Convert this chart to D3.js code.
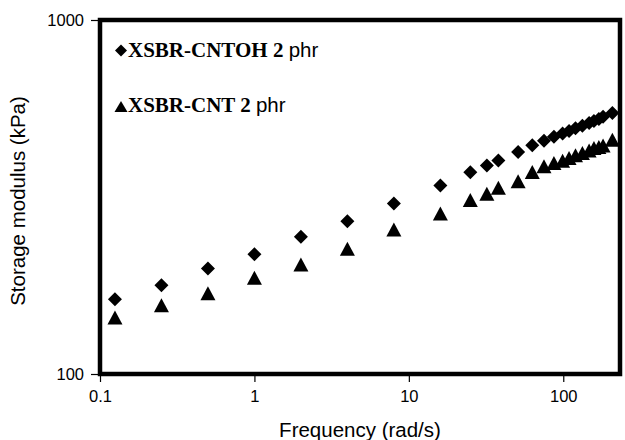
<!DOCTYPE html>
<html>
<head>
<meta charset="utf-8">
<script src="https://cdn.jsdelivr.net/npm/d3@7"></script>
<style>
  html, body { margin: 0; padding: 0; background: #fff; }
  svg { display: block; }
</style>
</head>
<body>
<svg id="chart" width="625" height="440"></svg>
<script>
// Angular frequency (rad/s) of each measurement
const frequency = [0.125, 0.25, 0.5, 1, 2, 4, 8, 16, 25, 32, 38, 51, 63, 75, 87, 99, 109, 120, 133, 147, 158, 170, 181, 208];
// Storage modulus (kPa)
const cntohValues = [162.6, 178, 198.6, 218, 244, 270, 303, 341, 371.5, 388, 401, 424, 443, 456, 467.6, 477.6, 486, 494.7, 503, 512, 518.7, 525.5, 533, 546];
const cntValues = [144.5, 156.5, 169, 187, 204, 226, 256, 284, 310, 323, 336, 350.5, 372, 386, 394.6, 400.6, 407.7, 414.6, 421, 428.2, 435, 437.8, 442.4, 459];
const xTicks = [0.1, 1, 10, 100];
const yTicks = [100, 1000];
const seriesNames = ["XSBR-CNTOH 2", "XSBR-CNT 2"];

const svg = d3.select("#chart");
const plot = { left: 100, right: 620, top: 20, bottom: 374 };

const x = d3.scaleLog().domain([0.1, 233]).range([plot.left, plot.right]);
const y = d3.scaleLog().domain([100, 1000]).range([plot.bottom, plot.top]);

const sans = "'Liberation Sans', Arial, sans-serif";
const serif = "'Liberation Serif', 'Times New Roman', serif";

// Axes (ticks point outward, domain line hidden under the frame)
const xAxis = svg.append("g")
  .attr("transform", `translate(0,${plot.bottom})`)
  .call(d3.axisBottom(x).tickValues(xTicks).tickFormat(d3.format("")).tickSize(8).tickPadding(8));
const yAxis = svg.append("g")
  .attr("transform", `translate(${plot.left},0)`)
  .call(d3.axisLeft(y).tickValues(yTicks).tickFormat(d3.format("")).tickSize(9).tickPadding(7));
[xAxis, yAxis].forEach(g => {
  g.select(".domain").remove();
  g.selectAll(".tick line").attr("stroke", "#000").attr("stroke-width", 1.2);
  g.selectAll(".tick text").attr("fill", "#000")
    .style("font-family", sans).style("font-size", "16.5px");
});

// Thick plot frame
svg.append("rect")
  .attr("x", plot.left).attr("y", plot.top)
  .attr("width", plot.right - plot.left).attr("height", plot.bottom - plot.top)
  .attr("fill", "none").attr("stroke", "#000").attr("stroke-width", 4.5);

// Marker shapes
const diamond = s => `M0,${-s}L${s},0L0,${s}L${-s},0Z`;
const triangle = (w, h) => `M0,${-h / 2}L${w / 2},${h / 2}L${-w / 2},${h / 2}Z`;

svg.append("g").selectAll("path")
  .data(frequency.map((f, i) => [f, cntohValues[i]]))
  .join("path")
  .attr("transform", d => `translate(${x(d[0])},${y(d[1])})`)
  .attr("d", diamond(7))
  .attr("fill", "#000");

svg.append("g").selectAll("path")
  .data(frequency.map((f, i) => [f, cntValues[i]]))
  .join("path")
  .attr("transform", d => `translate(${x(d[0])},${y(d[1])})`)
  .attr("d", triangle(15, 14))
  .attr("fill", "#000");

// Legend
svg.append("path").attr("transform", "translate(121,50.5)").attr("d", diamond(6)).attr("fill", "#000");
svg.append("path").attr("transform", "translate(121,106.5)").attr("d", triangle(13, 11)).attr("fill", "#000");

[[seriesNames[0], 56.7], [seriesNames[1], 111.7]].forEach(([name, base]) => {
  const t = svg.append("text").attr("x", 128).attr("y", base).attr("fill", "#000");
  t.append("tspan").style("font-family", serif).style("font-weight", "bold").style("font-size", "21px").text(name + " ");
  t.append("tspan").style("font-family", sans).style("font-size", "20.5px").text("phr");
});

// Axis titles
svg.append("text")
  .attr("x", 360).attr("y", 436.5).attr("text-anchor", "middle")
  .style("font-family", sans).style("font-size", "20.5px").attr("fill", "#000")
  .text("Frequency (rad/s)");
svg.append("text")
  .attr("transform", "translate(25,201) rotate(-90)").attr("text-anchor", "middle")
  .style("font-family", sans).style("font-size", "20.5px").attr("fill", "#000")
  .text("Storage modulus (kPa)");
</script>
</body>
</html>
